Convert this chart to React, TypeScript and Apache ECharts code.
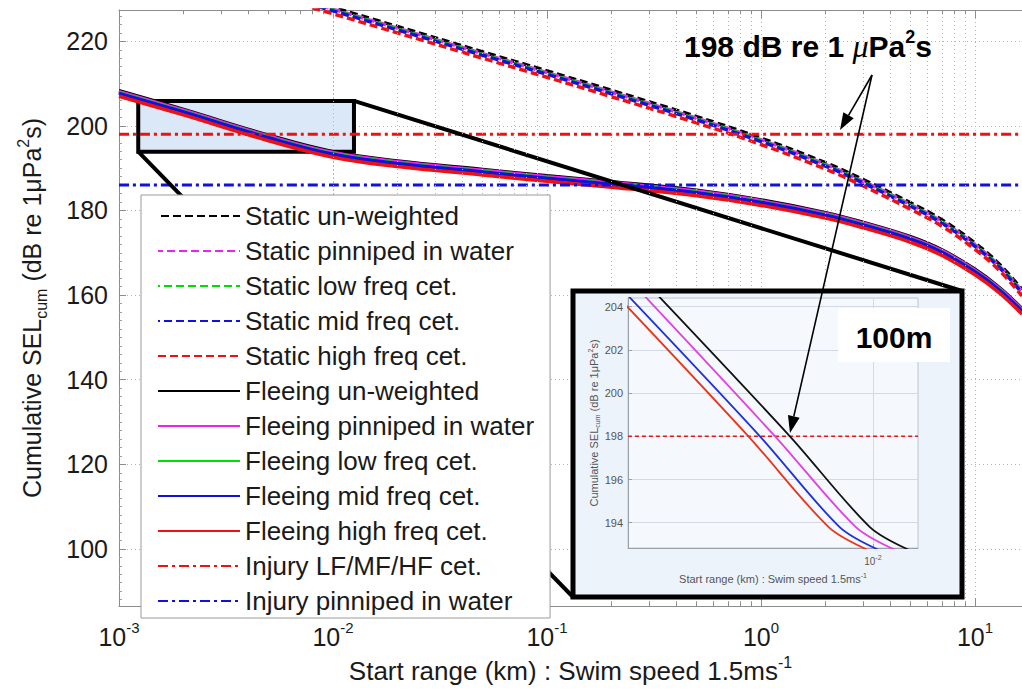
import React, { useEffect, useRef } from "react";
import * as echarts from "echarts";

const FONT = "'Liberation Sans', Arial, Helvetica, sans-serif";
const TXT = "#1a1a1a";

// ---------- main axes ----------
const xMin = 0.001;
const xMax = 16.58;
const yMin = 86.5;
const yMax = 227.4;

// ---------- static (dashed) curves ----------
const staticRange = [0.008, 0.01, 0.02, 0.05, 0.1, 0.2, 0.5, 1, 2, 3, 5, 7, 10, 13, 16.58];
const staticUnweighted = [229.4, 228.0, 223.5, 217.5, 213.0, 208.4, 202.2, 197.1, 191.3, 187.3, 181.8, 177.8, 172.3, 167.3, 161.3];
const staticPinniped = [229.0, 227.6, 223.1, 217.1, 212.6, 208.0, 201.8, 196.7, 190.9, 186.9, 181.4, 177.4, 171.9, 166.9, 160.9];
const staticLowFreq = [228.8, 227.4, 222.9, 216.9, 212.4, 207.8, 201.6, 196.5, 190.7, 186.7, 181.2, 177.2, 171.7, 166.7, 160.7];
const staticMidFreq = [228.6, 227.2, 222.7, 216.7, 212.2, 207.6, 201.4, 196.3, 190.5, 186.5, 181.0, 177.0, 171.5, 166.5, 160.5];
const staticHighFreq = [227.9, 226.5, 222.0, 216.0, 211.5, 206.9, 200.7, 195.6, 189.8, 185.8, 180.3, 176.3, 170.8, 165.8, 159.8];

// ---------- fleeing (solid) curves ----------
const fleeingRange = [0.001, 0.002, 0.005, 0.01, 0.02, 0.05, 0.1, 0.2, 0.5, 1, 2, 3, 5, 7, 10, 13, 16.58];
const fleeingUnweighted = [208.3, 203.9, 197.8, 193.9, 191.7, 189.7, 188.2, 186.8, 184.8, 182.5, 179.5, 177.2, 173.8, 170.7, 166.1, 161.8, 156.8];
const fleeingPinniped = [208.1, 203.7, 197.6, 193.7, 191.5, 189.5, 188.0, 186.6, 184.6, 182.3, 179.3, 177.0, 173.6, 170.5, 165.9, 161.6, 156.6];
const fleeingLowFreq = [207.8, 203.4, 197.3, 193.4, 191.2, 189.2, 187.7, 186.3, 184.3, 182.0, 179.0, 176.7, 173.3, 170.2, 165.6, 161.3, 156.3];
const fleeingMidFreq = [207.7, 203.3, 197.2, 193.3, 191.1, 189.1, 187.6, 186.2, 184.2, 181.9, 178.9, 176.6, 173.2, 170.1, 165.5, 161.2, 156.2];
const fleeingHighFreq = [207.0, 202.6, 196.5, 192.6, 190.4, 188.4, 186.9, 185.5, 183.5, 181.2, 178.2, 175.9, 172.5, 169.4, 164.8, 160.5, 155.5];

// ---------- injury thresholds ----------
const injuryRange = [0.001, 16.58];
const injuryCetacean = [198, 198];
const injuryPinnipedLevel = [186, 186];

// ---------- zoom box (data coords) ----------
const zoomBoxX = [0.00123, 0.01253];
const zoomBoxY = [193.9, 205.9];

// ---------- inset ----------
const insetXMin = 0.001285;
const insetXMax = 0.01459;
const insetYMin = 192.83;
const insetYMax = 204.4;
const insetLevels = [205.3, 198.0, 193.8, 192.75];
const insetUnweightedX = [0.001445, 0.004989, 0.00975, 0.01349];
const insetPinnipedX = [0.001288, 0.004406, 0.00867, 0.01202];
const insetMidFreqX = [0.001122, 0.003882, 0.007568, 0.01047];
const insetHighFreqX = [0.001023, 0.003524, 0.006902, 0.00955];
const insetThresholdX = [0.001285, 0.01459];
const insetThresholdY = [198, 198];
const insetMarkerX = 0.0104;
const insetMarkerY = [195.5, 201.2];

const legendNames = [
  "Static un-weighted",
  "Static pinniped in water",
  "Static low freq cet.",
  "Static mid freq cet.",
  "Static high freq cet.",
  "Fleeing un-weighted",
  "Fleeing pinniped in water",
  "Fleeing low freq cet.",
  "Fleeing mid freq cet.",
  "Fleeing high freq cet.",
  "Injury LF/MF/HF cet.",
  "Injury pinniped in water",
];

const C_BLACK = "#000000";
const C_MAG = "#ee22ee";
const C_GREEN = "#00dd00";
const C_BLUE = "#1010e0";
const C_RED = "#ee1111";

const DASH = [8, 4];
const DASHDOT = [10, 4, 3, 4];

// minor decade positions for grid lines (tick positions)
const minorMult = [2, 3, 4, 5, 6, 7, 8, 9];
const decades = [0.001, 0.01, 0.1, 1, 10];
const mainMinor: number[] = [];
decades.forEach((d) => minorMult.forEach((m) => { const v = +(d * m).toPrecision(3); if (v < xMax) mainMinor.push(v); }));
const insetMinor = minorMult.map((m) => +(0.001 * m).toPrecision(3));

const pts = (xs: number[], ys: number[]) => xs.map((x, i) => [x, ys[i]]);

const curve = (name: string, xs: number[], ys: number[], color: string, type: any, width = 3.5, dashOffset = 0) => ({
  type: "line",
  name,
  data: pts(xs, ys),
  xAxisIndex: 0,
  yAxisIndex: 0,
  symbol: "none",
  smooth: 0.4,
  clip: true,
  silent: true,
  z: 2,
  lineStyle: { color, width, type, dashOffset },
  itemStyle: { color, opacity: 0 },
  emphasis: { disabled: true },
});

const insetCurve = (name: string, xs: number[], ys: number[], color: string, width = 1.8, type: any = "solid") => ({
  type: "line",
  name,
  data: pts(xs, ys),
  xAxisIndex: 2,
  yAxisIndex: 1,
  symbol: "none",
  smooth: 0.3,
  clip: true,
  silent: true,
  zlevel: 1,
  z: 3,
  lineStyle: { color, width, type },
  itemStyle: { color },
  emphasis: { disabled: true },
});

const logFormatter = (v: number) => {
  const e = Math.log10(v);
  const r = Math.round(e);
  if (Math.abs(e - r) > 1e-6) return "";
  return `{b|10}{s|${r}}`;
};

function buildOption(): any {
  return {
    animation: false,
    backgroundColor: "#ffffff",
    textStyle: { fontFamily: FONT },
    grid: [
      { left: 119, top: 10, width: 903, height: 596, containLabel: false },
      {
        left: 628, top: 298, width: 290, height: 250, show: true,
        backgroundColor: "#f5f8fc", borderColor: "#c2c7cf", borderWidth: 1, zlevel: 1, z: 0,
      },
    ],
    legend: {
      data: legendNames,
      orient: "vertical",
      left: 141,
      top: 195,
      itemWidth: 82,
      itemHeight: 14,
      itemGap: 9,
      padding: [8, 16, 4, 16],
      backgroundColor: "#ffffff",
      borderColor: "#9a9a9a",
      borderWidth: 1,
      selectedMode: false,
      z: 6,
      itemStyle: { opacity: 0 },
      textStyle: { fontSize: 26, color: TXT, fontFamily: FONT },
    },
    xAxis: [
      {
        type: "log", gridIndex: 0, min: xMin, max: xMax, logBase: 10, position: "bottom",
        axisLine: { show: true, lineStyle: { color: "#8c8c8c", width: 1 } },
        axisTick: { show: true, inside: true, length: 8, lineStyle: { color: "#8c8c8c" } },
        axisLabel: {
          show: true, margin: 14, formatter: logFormatter, showMaxLabel: false,
          rich: {
            b: { fontSize: 25, lineHeight: 34, color: TXT, fontFamily: FONT },
            s: { fontSize: 15, lineHeight: 15, color: TXT, fontFamily: FONT, verticalAlign: "top" },
          },
        },
        splitLine: { show: true, lineStyle: { color: "#b5b5b5", type: [1, 3], width: 1 } },
        name: "{n|Start range (km) : Swim speed 1.5ms}{sup|-1}",
        nameLocation: "middle",
        nameGap: 46,
        nameTextStyle: {
          color: TXT,
          rich: {
            n: { fontSize: 26, lineHeight: 34, color: TXT, fontFamily: FONT },
            sup: { fontSize: 16, lineHeight: 15, color: TXT, fontFamily: FONT, verticalAlign: "top" },
          },
        },
      },
      {
        type: "log", gridIndex: 0, min: xMin, max: xMax, logBase: 10, position: "top",
        axisLine: { show: true, lineStyle: { color: "#8c8c8c", width: 1 } },
        axisTick: { show: true, inside: true, length: 8, lineStyle: { color: "#8c8c8c" } },
        axisLabel: { show: false },
        splitLine: { show: false },
      },
      {
        type: "log", gridIndex: 1, min: insetXMin, max: insetXMax, logBase: 10, zlevel: 1, z: 1,
        axisLine: { show: true, lineStyle: { color: "#9aa0a8", width: 1 } },
        axisTick: { show: true, inside: true, length: 4, lineStyle: { color: "#9aa0a8" } },
        axisLabel: {
          show: true, margin: 6, formatter: logFormatter, showMaxLabel: false, showMinLabel: false,
          rich: {
            b: { fontSize: 10, lineHeight: 14, color: "#555", fontFamily: FONT },
            s: { fontSize: 7, lineHeight: 7, color: "#555", fontFamily: FONT, verticalAlign: "top" },
          },
        },
        splitLine: { show: true, lineStyle: { color: "#d3d9e2", width: 1 } },
        name: "{n|Start range (km) : Swim speed 1.5ms}{sup|-1}",
        nameLocation: "middle",
        nameGap: 24,
        nameTextStyle: {
          rich: {
            n: { fontSize: 11, lineHeight: 14, color: "#555", fontFamily: FONT },
            sup: { fontSize: 7, lineHeight: 7, color: "#555", fontFamily: FONT, verticalAlign: "top" },
          },
        },
      },
    ],
    yAxis: [
      {
        type: "value", gridIndex: 0, min: yMin, max: yMax, minInterval: 20, maxInterval: 20, splitNumber: 7,
        axisLine: { show: true, lineStyle: { color: "#8c8c8c", width: 1 } },
        axisTick: { show: true, inside: true, length: 7, lineStyle: { color: "#8c8c8c" } },
        minorTick: { show: true, splitNumber: 10, length: 3, lineStyle: { color: "#a0a0a0" } },
        axisLabel: {
          show: true, margin: 11, fontSize: 25, color: TXT, fontFamily: FONT,
          showMinLabel: false, showMaxLabel: false,
          formatter: (v: number) => (Math.abs(v / 20 - Math.round(v / 20)) < 1e-6 ? String(Math.round(v)) : ""),
        },
        splitLine: { show: true, lineStyle: { color: "#b5b5b5", type: [1, 3], width: 1 } },
        name: "{n|Cumulative SEL}{sub|cum}{n| (dB re 1μPa}{sup|2}{n|s)}",
        nameLocation: "middle",
        nameGap: 70,
        nameRotate: 90,
        nameTextStyle: {
          color: TXT,
          rich: {
            n: { fontSize: 25, lineHeight: 34, color: TXT, fontFamily: FONT },
            sub: { fontSize: 16, lineHeight: 16, color: TXT, fontFamily: FONT, verticalAlign: "bottom" },
            sup: { fontSize: 16, lineHeight: 16, color: TXT, fontFamily: FONT, verticalAlign: "top" },
          },
        },
      },
      {
        type: "value", gridIndex: 1, min: insetYMin, max: insetYMax, minInterval: 2, maxInterval: 2, splitNumber: 6,
        zlevel: 1, z: 1,
        axisLine: { show: true, lineStyle: { color: "#9aa0a8", width: 1 } },
        axisTick: { show: true, inside: true, length: 4, lineStyle: { color: "#9aa0a8" } },
        axisLabel: {
          show: true, margin: 5, fontSize: 11, color: "#555", fontFamily: FONT,
          showMinLabel: false, showMaxLabel: false,
          formatter: (v: number) => (Math.abs(v / 2 - Math.round(v / 2)) < 1e-6 ? String(Math.round(v)) : ""),
        },
        splitLine: { show: true, lineStyle: { color: "#d3d9e2", width: 1 } },
        name: "{n|Cumulative SEL}{sub|cum}{n| (dB re 1μPa}{sup|2}{n|s)}",
        nameLocation: "middle",
        nameGap: 26,
        nameRotate: 90,
        nameTextStyle: {
          rich: {
            n: { fontSize: 11, lineHeight: 14, color: "#555", fontFamily: FONT },
            sub: { fontSize: 7, lineHeight: 7, color: "#555", fontFamily: FONT, verticalAlign: "bottom" },
            sup: { fontSize: 7, lineHeight: 7, color: "#555", fontFamily: FONT, verticalAlign: "top" },
          },
        },
      },
    ],
    series: [
      // helper: minor grid lines, minor ticks and zoom box
      {
        type: "line", name: "__grid", data: [], xAxisIndex: 0, yAxisIndex: 0, z: 1, silent: true,
        markLine: {
          silent: true, symbol: ["none", "none"], label: { show: false },
          lineStyle: { color: "#b5b5b5", type: [1, 3], width: 1 },
          emphasis: { disabled: true },
          data: mainMinor.map((v) => ({ xAxis: v })),
        },
        markArea: {
          silent: true,
          itemStyle: { color: "#dbe8f7", borderColor: "#000000", borderWidth: 4 },
          emphasis: { disabled: true },
          data: [[{ coord: [zoomBoxX[0], zoomBoxY[1]] }, { coord: [zoomBoxX[1], zoomBoxY[0]] }]],
        },
      },
      {
        type: "line", name: "__ticks", data: [], xAxisIndex: 0, yAxisIndex: 0, z: 1, silent: true,
        markLine: {
          silent: true, symbol: ["none", "none"], label: { show: false },
          lineStyle: { color: "#8c8c8c", type: "solid", width: 1 },
          emphasis: { disabled: true },
          data: [
            ...mainMinor.map((v) => [{ coord: [v, yMax] }, { coord: [v, yMax - 1.0] }]),
            ...mainMinor.map((v) => [{ coord: [v, yMin] }, { coord: [v, yMin + 1.0] }]),
          ],
        },
      },
      curve(legendNames[0], staticRange, staticUnweighted, C_BLACK, DASH, 3.5, 9),
      curve(legendNames[1], staticRange, staticPinniped, C_MAG, DASH, 3.5, 3),
      curve(legendNames[2], staticRange, staticLowFreq, C_GREEN, DASH, 3.5, 6),
      curve(legendNames[3], staticRange, staticMidFreq, C_BLUE, DASH, 3.5, 6),
      curve(legendNames[4], staticRange, staticHighFreq, C_RED, DASH, 3.5, 0),
      curve(legendNames[5], fleeingRange, fleeingUnweighted, C_BLACK, "solid"),
      curve(legendNames[6], fleeingRange, fleeingPinniped, C_MAG, "solid"),
      curve(legendNames[7], fleeingRange, fleeingLowFreq, C_GREEN, "solid"),
      curve(legendNames[8], fleeingRange, fleeingMidFreq, C_BLUE, "solid"),
      curve(legendNames[9], fleeingRange, fleeingHighFreq, C_RED, "solid"),
      curve(legendNames[10], injuryRange, injuryCetacean, C_RED, DASHDOT, 3),
      curve(legendNames[11], injuryRange, injuryPinnipedLevel, C_BLUE, DASHDOT, 3),
      // inset
      {
        type: "line", name: "__insetgrid", data: [], xAxisIndex: 2, yAxisIndex: 1, zlevel: 1, z: 1, silent: true,
        markLine: {
          silent: true, symbol: ["none", "none"], label: { show: false },
          lineStyle: { color: "#d3d9e2", type: "solid", width: 1 },
          emphasis: { disabled: true },
          data: insetMinor.map((v) => ({ xAxis: v })),
        },
      },
      {
        ...insetCurve("__inset198", insetThresholdX, insetThresholdY, "#e01818", 1.5, [4, 3]),
        markLine: {
          silent: true, symbol: ["none", "none"], label: { show: false },
          lineStyle: { color: "#000000", type: [12, 9], width: 4 },
          emphasis: { disabled: true },
          data: [[{ coord: [insetMarkerX, insetMarkerY[1]] }, { coord: [insetMarkerX, insetMarkerY[0]] }]],
        },
      },
      insetCurve("__insetHF", insetHighFreqX, insetLevels, "#e8341c"),
      insetCurve("__insetMF", insetMidFreqX, insetLevels, "#2030d8"),
      insetCurve("__insetPin", insetPinnipedX, insetLevels, "#e040e0"),
      insetCurve("__insetUnw", insetUnweightedX, insetLevels, "#111111"),
    ],
  };
}

const FRAME = { x: 573, y: 291, w: 389, h: 306 };
const ARROW_FROM = [872, 75];
const ARROW_TIPS = [
  [840, 130],
  [790, 433],
];

function arrowHead(x1: number, y1: number, x2: number, y2: number, len = 17, half = 6) {
  const dx = x2 - x1;
  const dy = y2 - y1;
  const d = Math.hypot(dx, dy);
  const ux = dx / d;
  const uy = dy / d;
  const px = -uy;
  const py = ux;
  return [
    [x2, y2],
    [x2 - ux * len + px * half, y2 - uy * len + py * half],
    [x2 - ux * len - px * half, y2 - uy * len - py * half],
  ];
}

function buildGraphics(bl: number[], tr: number[]): any[] {
  const els: any[] = [
    {
      type: "line", zlevel: 0, z: 3, silent: true,
      shape: { x1: bl[0], y1: bl[1], x2: FRAME.x, y2: FRAME.y + FRAME.h },
      style: { stroke: "#000", lineWidth: 4 },
    },
    {
      type: "line", zlevel: 0, z: 3, silent: true,
      shape: { x1: tr[0], y1: tr[1], x2: FRAME.x + FRAME.w, y2: FRAME.y },
      style: { stroke: "#000", lineWidth: 4 },
    },
    {
      type: "rect", zlevel: 1, z: -1, silent: true,
      shape: { x: FRAME.x, y: FRAME.y, width: FRAME.w, height: FRAME.h },
      style: { fill: "#edf3fb", stroke: "#000", lineWidth: 5 },
    },
    {
      type: "rect", zlevel: 1, z: 10, silent: true,
      shape: { x: 838, y: 308, width: 112, height: 54 },
      style: { fill: "#ffffff" },
    },
    {
      type: "text", zlevel: 1, z: 11, silent: true, x: 894, y: 337,
      style: { text: "100m", fontSize: 30, fontWeight: "bold", fontFamily: FONT, fill: "#000", align: "center", verticalAlign: "middle" },
    },
    {
      type: "text", zlevel: 1, z: 20, silent: true, x: 684, y: 46,
      style: {
        text: "{b|198 dB re 1 }{mu|μ}{b|Pa}{sup|2}{b|s}",
        align: "left",
        verticalAlign: "middle",
        rich: {
          b: { fontSize: 30, fontWeight: "bold", fontFamily: FONT, fill: "#000", lineHeight: 36 },
          mu: { fontSize: 32, fontStyle: "italic", fontFamily: "'Liberation Serif', 'DejaVu Serif', serif", fill: "#000", lineHeight: 36 },
          sup: { fontSize: 18, fontWeight: "bold", fontFamily: FONT, fill: "#000", lineHeight: 17, verticalAlign: "top" },
        },
      },
    },
  ];
  ARROW_TIPS.forEach(([tx, ty]) => {
    const head = arrowHead(ARROW_FROM[0], ARROW_FROM[1], tx, ty);
    const bx = (head[1][0] + head[2][0]) / 2;
    const by = (head[1][1] + head[2][1]) / 2;
    els.push({
      type: "line", zlevel: 1, z: 20, silent: true,
      shape: { x1: ARROW_FROM[0], y1: ARROW_FROM[1], x2: bx, y2: by },
      style: { stroke: "#000", lineWidth: 1.6 },
    });
    els.push({
      type: "polygon", zlevel: 1, z: 20, silent: true,
      shape: { points: head },
      style: { fill: "#000" },
    });
  });
  return els;
}

export default function App() {
  const ref = useRef<HTMLDivElement>(null);
  useEffect(() => {
    document.body.style.margin = "0";
    const el = ref.current as HTMLDivElement;
    const chart = echarts.init(el, null, { renderer: "svg" });
    chart.setOption(buildOption());
    const bl = chart.convertToPixel({ xAxisIndex: 0, yAxisIndex: 0 } as any, [zoomBoxX[0], zoomBoxY[0]]) as number[];
    const tr = chart.convertToPixel({ xAxisIndex: 0, yAxisIndex: 0 } as any, [zoomBoxX[1], zoomBoxY[1]]) as number[];
    chart.setOption({ graphic: { elements: buildGraphics(bl, tr) } });
    return () => chart.dispose();
  }, []);
  return <div ref={ref} style={{ width: 1022, height: 691 }} />;
}
